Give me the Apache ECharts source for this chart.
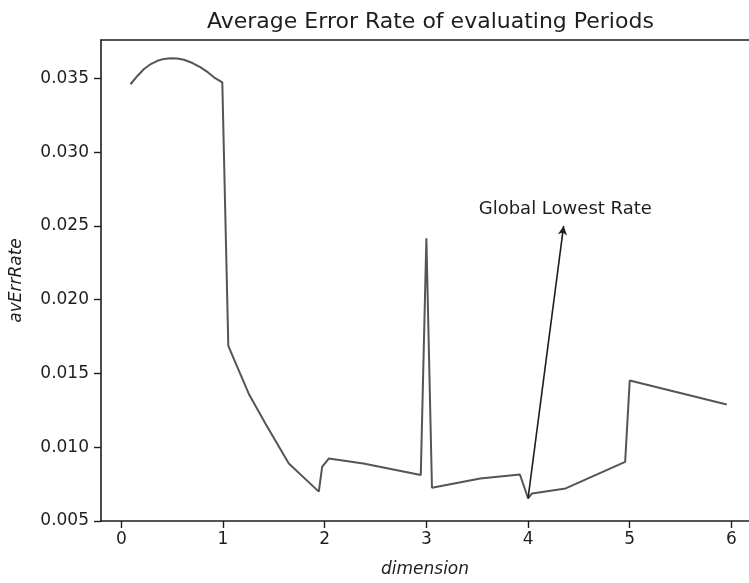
<!DOCTYPE html>
<html>
<head>
<meta charset="utf-8">
<script src="https://cdn.jsdelivr.net/npm/echarts@6/dist/echarts.min.js"></script>
<style>
  html, body { margin: 0; padding: 0; background: #fff; }
  #chart { width: 749px; height: 583px; }
</style>
</head>
<body>
<div id="chart"></div>
<script>
// Dimension values (x) and the average error rate measured at each one (y)
const dims = [
  0.09, 0.16, 0.223, 0.29, 0.355, 0.42, 0.485, 0.55, 0.616, 0.70, 0.78, 0.85, 0.911, 0.993,
  1.052, 1.156, 1.254, 1.418, 1.647, 1.942, 1.975, 2.04, 2.38, 2.945,
  3.00, 3.055, 3.53, 3.92, 4.00, 4.04, 4.37, 4.955,
  5.00, 5.954
];
const avErrRate = [
  0.0346, 0.03518, 0.03563, 0.03597, 0.03619, 0.03632, 0.03637, 0.03635, 0.03626, 0.03604, 0.03574, 0.03542, 0.03507, 0.03473,
  0.01687, 0.01519, 0.01361, 0.01159, 0.0089, 0.00699, 0.00867, 0.00923, 0.0089, 0.00812,
  0.02417, 0.00725, 0.00788, 0.00815, 0.00654, 0.00687, 0.00721, 0.00901,
  0.01452, 0.0129
];
const xTicks = [0, 1, 2, 3, 4, 5, 6];
const yTicks = [0.005, 0.010, 0.015, 0.020, 0.025, 0.030, 0.035];

// Annotation: arrow from the lowest point up to the caption
const lowestPoint = [4.00, 0.00654];
const arrowTip = [4.35, 0.0250];
const captionPos = [4.366, 0.02613];
const captionText = 'Global Lowest Rate';

const FONT = 'DejaVu Sans';
const INK = '#1e1e1e';

const chart = echarts.init(document.getElementById('chart'), null, { renderer: 'canvas' });

const axisCommon = {
  axisLine: { show: true, onZero: false, lineStyle: { color: INK, width: 1.6 } },
  splitLine: { show: false }
};

chart.setOption({
  animation: false,
  backgroundColor: '#ffffff',
  title: {
    text: 'Average Error Rate of evaluating Periods',
    left: 202,
    top: 6,
    textStyle: { fontFamily: FONT, fontSize: 22, fontWeight: 'normal', color: INK }
  },
  grid: { left: 101, right: 0, top: 40, bottom: 59, containLabel: false },
  xAxis: [
    Object.assign({
      type: 'value',
      position: 'bottom',
      min: -0.2,
      max: 6.173,
      name: 'dimension',
      nameLocation: 'middle',
      nameGap: 40,
      nameTextStyle: { fontFamily: FONT, fontSize: 17, fontStyle: 'italic', color: INK },
      axisTick: { show: true, inside: false, length: 7, lineStyle: { color: INK, width: 1.4 }, customValues: xTicks },
      axisLabel: {
        fontFamily: FONT, fontSize: 17, color: INK, margin: 10,
        customValues: xTicks,
        formatter: v => String(Math.round(v))
      }
    }, axisCommon),
    {
      type: 'value',
      position: 'top',
      min: -0.2,
      max: 6.173,
      axisLine: { show: true, onZero: false, lineStyle: { color: INK, width: 1.6 } },
      axisTick: { show: false },
      axisLabel: { show: false },
      splitLine: { show: false }
    }
  ],
  yAxis: Object.assign({
    type: 'value',
    min: 0.005,
    max: 0.0376,
    name: 'avErrRate',
    nameLocation: 'middle',
    nameGap: 76,
    nameRotate: 90,
    nameTextStyle: { fontFamily: FONT, fontSize: 17, fontStyle: 'italic', color: INK },
    axisTick: { show: true, inside: false, length: 7, lineStyle: { color: INK, width: 1.4 }, customValues: yTicks },
    axisLabel: {
      fontFamily: FONT, fontSize: 17, color: INK, margin: 12,
      customValues: yTicks,
      formatter: v => v.toFixed(3)
    }
  }, axisCommon),
  series: [
    {
      type: 'line',
      xAxisIndex: 0,
      data: dims.map((d, i) => [d, avErrRate[i]]),
      showSymbol: false,
      symbol: 'none',
      lineStyle: { color: '#555555', width: 2 },
      markLine: {
        silent: true,
        symbol: ['none', 'arrow'],
        symbolSize: [7, 9],
        lineStyle: { color: INK, width: 1.6, type: 'solid' },
        label: { show: false },
        data: [[{ coord: lowestPoint }, { coord: arrowTip }]]
      },
      markPoint: {
        silent: true,
        symbol: 'rect',
        symbolSize: 1,
        itemStyle: { color: 'rgba(0,0,0,0)' },
        label: {
          show: true,
          position: 'inside',
          formatter: captionText,
          fontFamily: FONT,
          fontSize: 18,
          color: INK
        },
        data: [{ coord: captionPos }]
      }
    }
  ]
});
</script>
</body>
</html>
